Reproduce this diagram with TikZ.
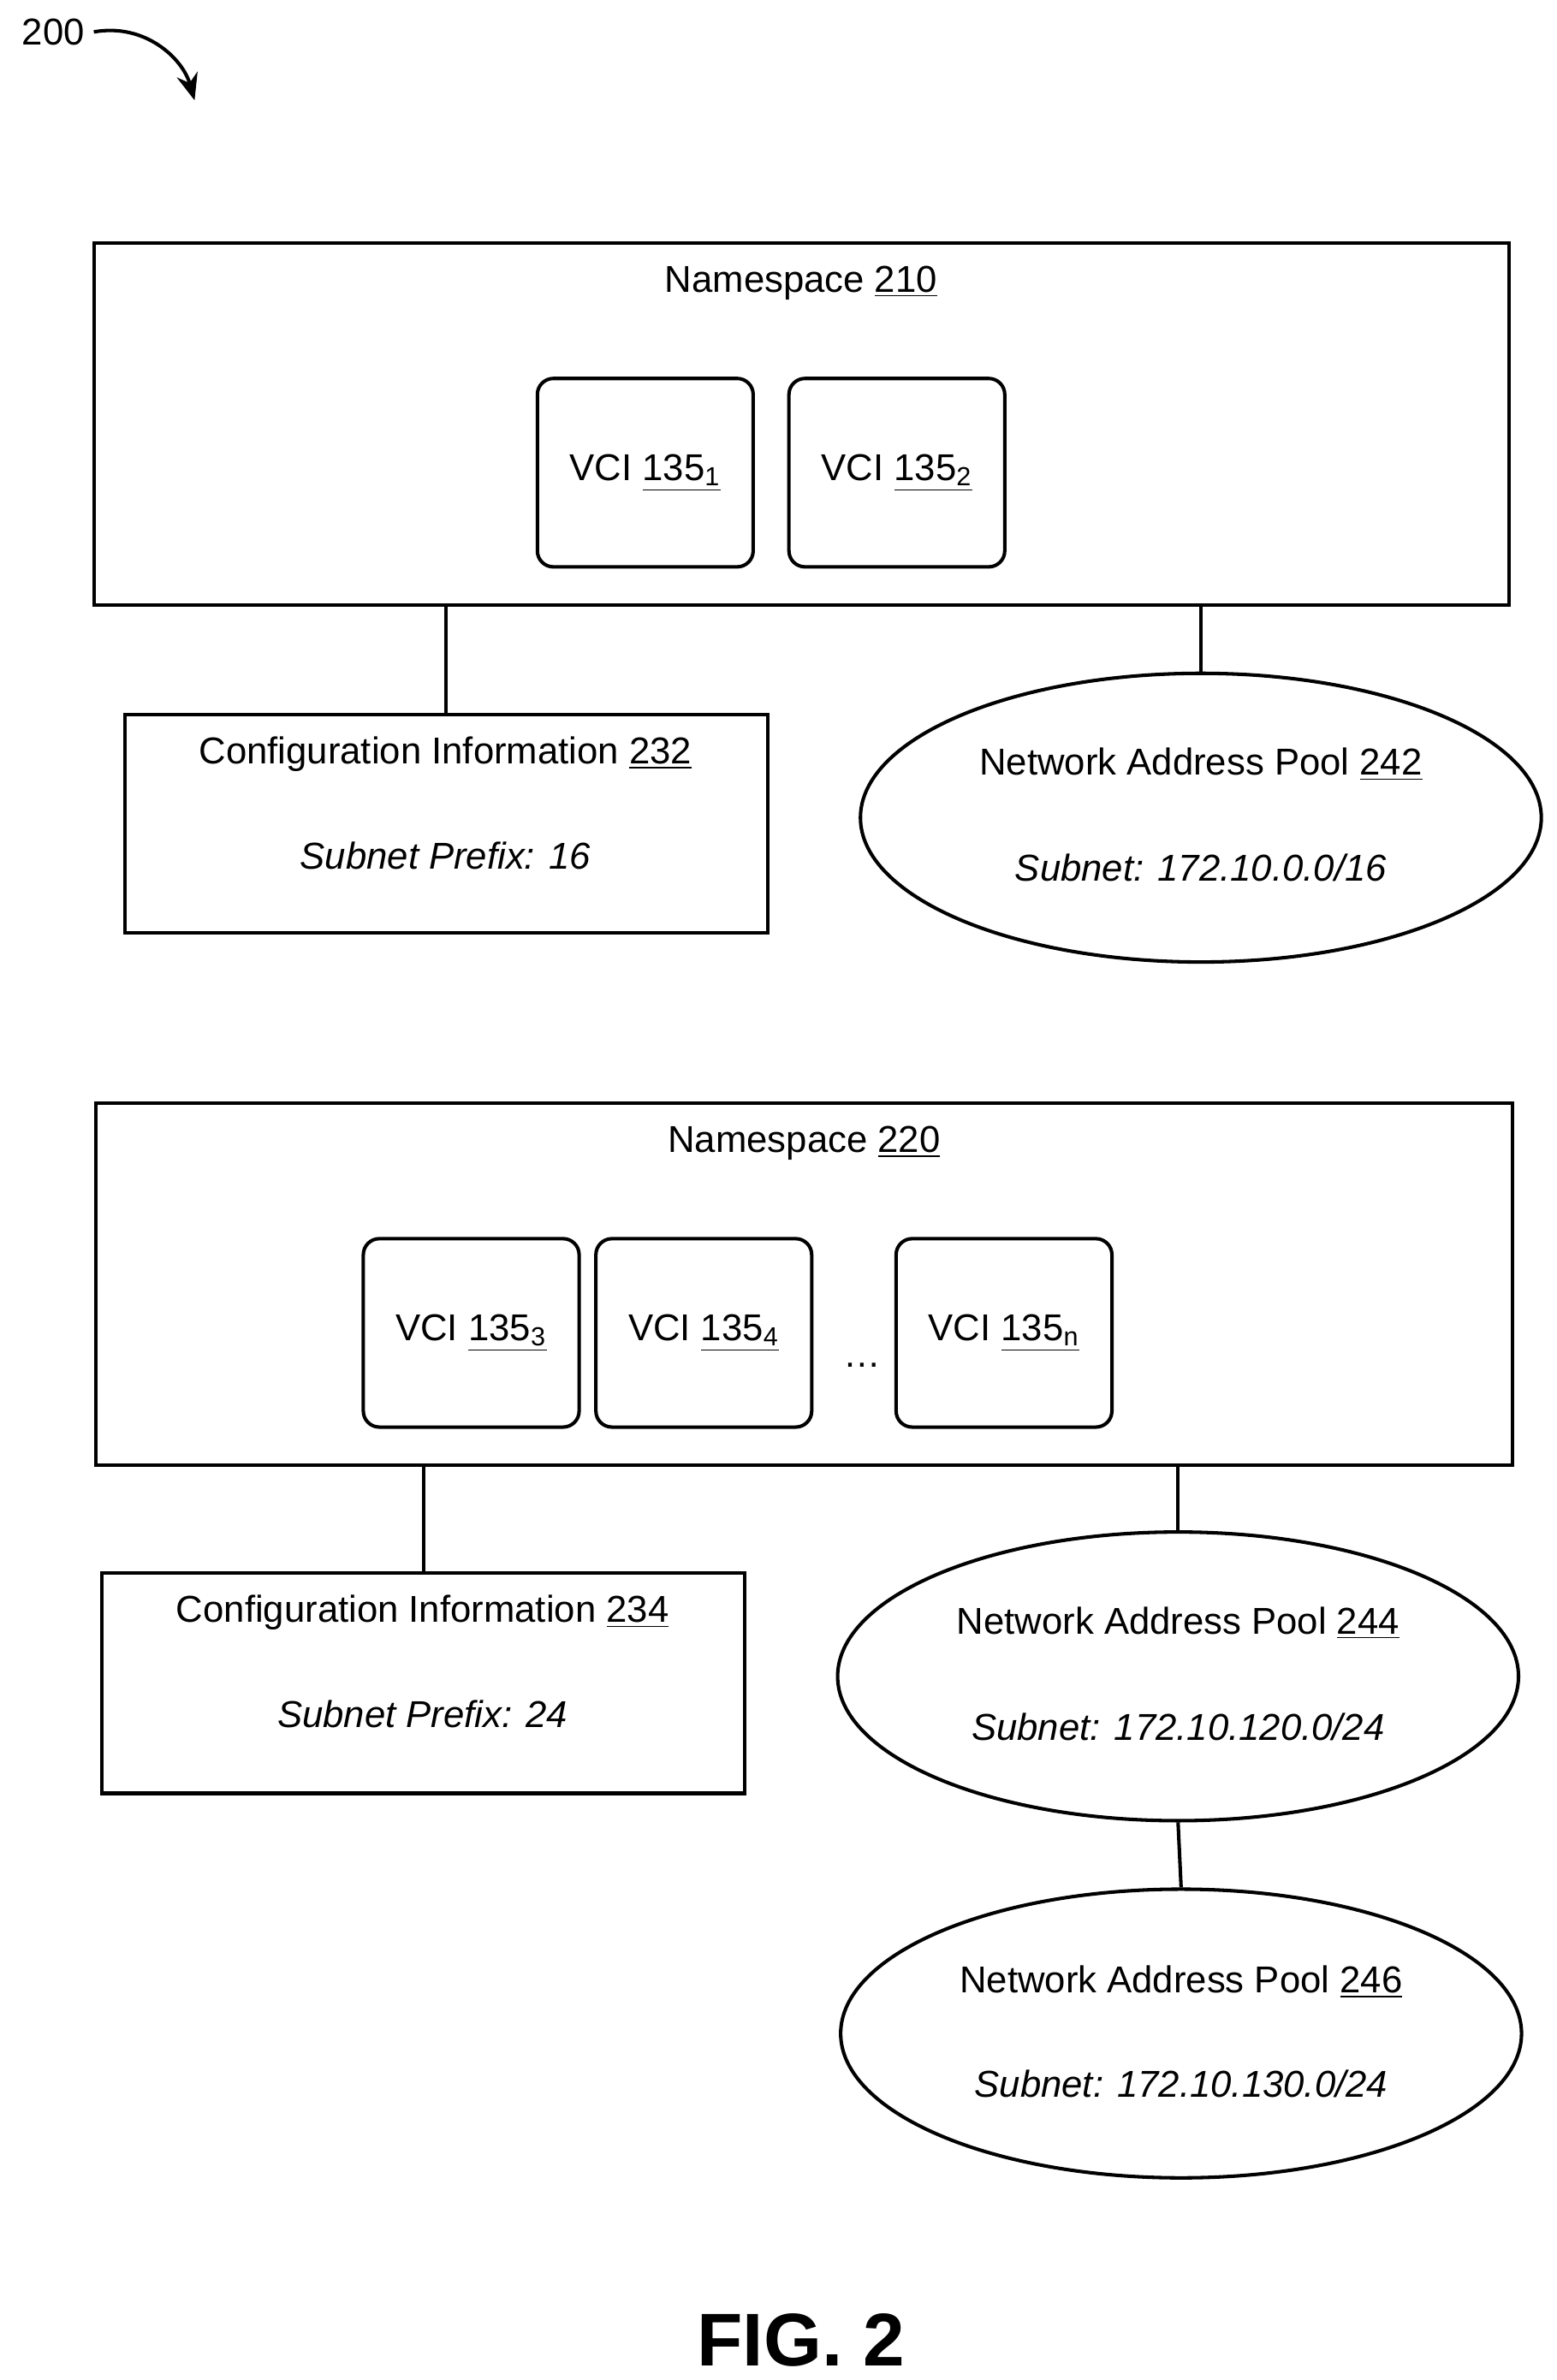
\documentclass[tikz,border=0pt]{standalone}
\usepackage{fontspec}
\setmainfont{Liberation Sans}
\usetikzlibrary{shapes.geometric,arrows.meta}
\tikzset{
  box/.style={draw, line width=1.3pt, inner sep=0pt},
  vci/.style={draw, line width=1.3pt, rounded corners=6pt, inner sep=0pt,
    minimum width=2.84cm, minimum height=2.48cm},
  pool/.style={draw, ellipse, line width=1.3pt, inner sep=0pt,
    minimum width=8.96cm, minimum height=3.8cm},
  txt/.style={font=\fontsize{14}{17}\selectfont},
  link/.style={line width=1.3pt}
}
\begin{document}
\begin{tikzpicture}[x=0.02cm, y=-0.02cm]
\useasboundingbox (0,0) rectangle (1024,1566);

% reference arrow
\node[txt] (ref) at (35,21) {200};
\draw[line width=1.3pt, -{Stealth[length=10pt,width=8pt]}] (ref.east) .. controls (95,15) and (120,38) .. (128,66);

% Namespace 210
\node[box, minimum width=18.62cm, minimum height=4.76cm] (ns1) at (527.5,279) {};
\node[txt] (ns1t) at (527,186) {Namespace \underline{210}};
\node[vci] (v1) at (424.5,311) {};
\node[txt] at (v1) {VCI \underline{135\textsubscript{1}}};
\node[vci] (v2) at (590,311) {};
\node[txt] at (v2) {VCI \underline{135\textsubscript{2}}};

\node[box, minimum width=8.46cm, minimum height=2.88cm] (cfg1) at (293.5,542) {};
\node[txt] at (293,496) {Configuration Information \underline{232}};
\node[txt] at (293,563) {\itshape Subnet Prefix: 16};
\node[pool] (pool1) at (790,538) {};
\node[txt] at (790,503) {Network Address Pool \underline{242}};
\node[txt] at (790,571) {\itshape Subnet: 172.10.0.0/16};
\draw[link] (ns1.south -| cfg1.north) -- (cfg1.north);
\draw[link] (ns1.south -| pool1.north) -- (pool1.north);

% Namespace 220
\node[box, minimum width=18.64cm, minimum height=4.76cm] (ns2) at (529,845) {};
\node[txt] (ns2t) at (529,752) {Namespace \underline{220}};
\node[vci] (v3) at (310,877) {};
\node[txt] at (v3) {VCI \underline{135\textsubscript{3}}};
\node[vci] (v4) at (463,877) {};
\node[txt] at (v4) {VCI \underline{135\textsubscript{4}}};
\node[txt] (dots) at (567,898) {\dots};
\node[vci] (vn) at (660.5,877) {};
\node[txt] at (vn) {VCI \underline{135\textsubscript{n}}};

\node[box, minimum width=8.46cm, minimum height=2.9cm] (cfg2) at (278.5,1107.5) {};
\node[txt] at (278,1061) {Configuration Information \underline{234}};
\node[txt] at (278,1128) {\itshape Subnet Prefix: 24};
\node[pool] (pool2) at (775,1103) {};
\node[txt] at (775,1068) {Network Address Pool \underline{244}};
\node[txt] at (775,1136) {\itshape Subnet: 172.10.120.0/24};
\node[pool] (pool3) at (777,1338) {};
\node[txt] at (777,1304) {Network Address Pool \underline{246}};
\node[txt] at (777,1371) {\itshape Subnet: 172.10.130.0/24};
\draw[link] (ns2.south -| cfg2.north) -- (cfg2.north);
\draw[link] (ns2.south -| pool2.north) -- (pool2.north);
\draw[link] (pool2.south) -- (pool3.north);

\node[font=\fontsize{28}{32}\selectfont\bfseries] (fig) at (527,1540) {FIG. 2};
\end{tikzpicture}
\end{document}
